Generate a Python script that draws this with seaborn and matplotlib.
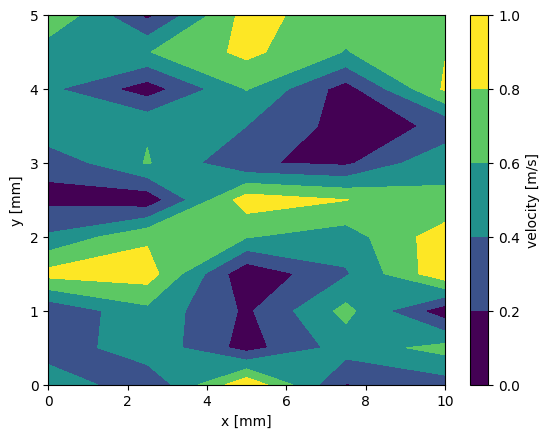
import numpy as np
import matplotlib
matplotlib.use('Agg')
import matplotlib.pyplot as plt
import seaborn as sns

# grid positions [mm]
x_mm = [0, 2.5, 5, 7.5, 10]
y_mm = [0.0, 0.5, 1.0, 1.5, 2.0, 2.5, 3.0, 3.5, 4.0, 4.5, 5.0]

# velocity [m/s] along y (bottom to top), one list per x column
vel_x0 = [0.58, 0.25, 0.23, 0.87, 0.43, 0.15, 0.25, 0.58, 0.443, 0.46, 0.81]
vel_x2_5 = [0.22, 0.55, 0.545, 0.90, 0.765, 0.065, 0.615, 0.58, 0.096, 0.59, 0.15]
vel_x5 = [0.96, 0.12, 0.165, 0.036, 0.61, 0.91, 0.22, 0.40, 0.61, 0.85, 0.88]
vel_x7_5 = [0.19, 0.49, 0.66, 0.378, 0.50, 0.805, 0.16, 0.12, 0.11, 0.59, 0.675]
vel_x10 = [0.305, 0.67, 0.07, 0.95, 0.92, 0.613, 0.58, 0.23, 0.83, 0.79, 0.72]

levels = [0.0, 0.2, 0.4, 0.6, 0.8, 1.0]

Z = np.column_stack([vel_x0, vel_x2_5, vel_x5, vel_x7_5, vel_x10])
X, Y = np.meshgrid(x_mm, y_mm)

fig, ax = plt.subplots(figsize=(6.4, 4.8))
# map the layer midpoints onto the full colormap range (ends of viridis)
cs = ax.contourf(X, Y, Z, levels=levels,
                 cmap=sns.color_palette('viridis', as_cmap=True),
                 vmin=0.1, vmax=0.9)
cbar = fig.colorbar(cs, ax=ax)
cbar.set_label('velocity [m/s]')
ax.set_xlabel('x [mm]')
ax.set_ylabel('y [mm]')

fig.savefig('out.png', dpi=100, bbox_inches='tight')
